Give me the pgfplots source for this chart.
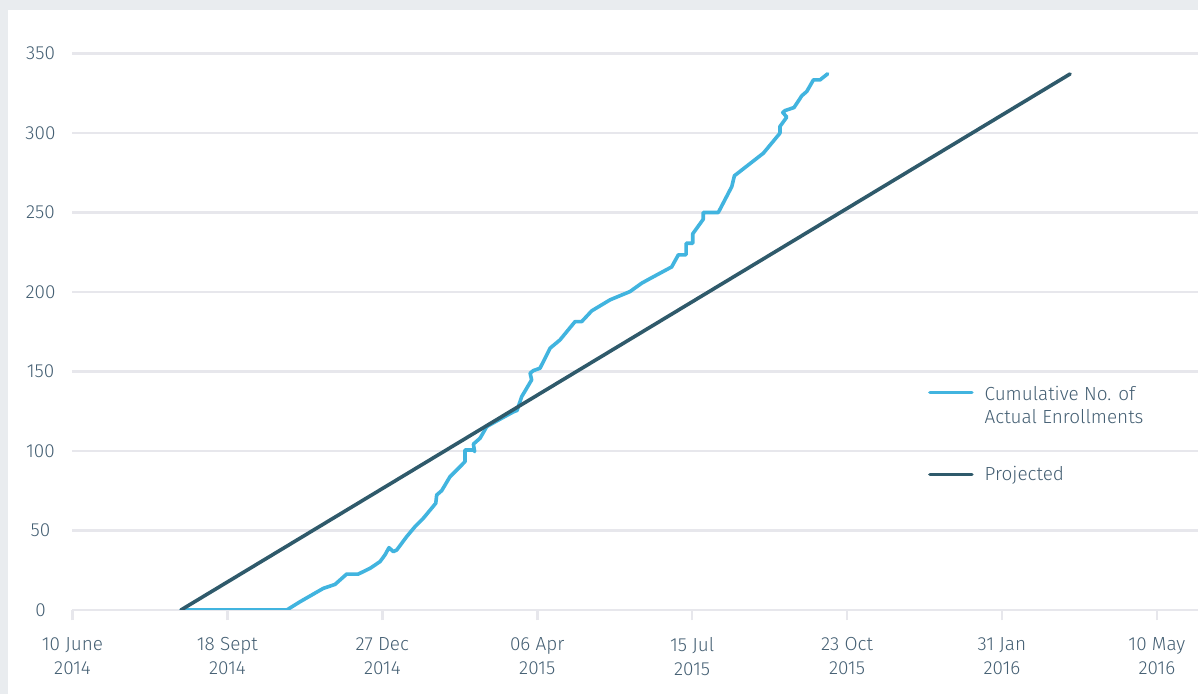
\documentclass[border=0pt]{standalone}
\usepackage{fontspec}
\setmainfont{Fira Sans Light}
\usepackage{pgfplots}
\usepackage{pgfplotstable}
\pgfplotsset{compat=1.18}
\definecolor{actual}{HTML}{41B4DF}
\definecolor{proj}{HTML}{2F5A6B}
\definecolor{txt}{HTML}{445F73}
\definecolor{gridc}{HTML}{E7E7EC}
\definecolor{framec}{HTML}{E9ECEF}

% day 0 = 10 June 2014
\pgfplotstableread{
d v
70.0 0
138.3 0
146.9 5.2
161.9 13.6
169.5 16.1
177.0 22.6
184.5 22.6
192.1 26.2
198.5 30.4
201.7 34.6
204.3 39.2
207.1 36.7
209.3 37.7
215.7 46.1
221.1 52.4
226.5 57.7
234.5 67.1
235.1 72.3
238.3 75.0
243.7 83.8
251.3 91.2
253.4 93.3
253.4 100.6
259.2 100.6
259.6 99.6
258.8 104.3
263.1 108.0
267.4 115.3
276.0 120.0
284.5 124.5
287.0 125.5
290.0 134.2
293.2 139.4
296.4 144.7
295.4 148.9
297.5 150.5
301.8 152.0
308.3 164.6
314.7 169.8
324.4 181.3
328.7 181.3
335.2 188.1
347.0 195.0
359.9 200.2
367.5 205.5
372.9 208.4
386.8 215.7
391.1 223.3
396.1 223.3
396.1 230.6
400.4 230.6
400.4 236.5
407.2 245.7
407.2 249.9
416.9 249.9
425.6 266.2
427.3 273.0
446.0 287.2
456.7 299.8
456.7 304.0
461.1 309.9
458.5 312.8
460.0 314.0
465.8 315.9
470.8 323.3
474.0 326.0
478.3 333.3
482.6 333.3
487.5 337.1
}\actualdata

\pgfplotstableread{
d v
70.0 0
644.0 337
}\projdata

\begin{document}
\begin{tikzpicture}
\fill[framec] (-72.5bp,-84bp) rectangle (1125.5bp,610bp);
\fill[white] (-64.5bp,-84bp) rectangle (1125.5bp,599.5bp);
\begin{axis}[
  at={(0,0)}, anchor=south west,
  scale only axis, width=1125.5bp, height=556.7bp,
  xmin=0, xmax=726.6, ymin=0, ymax=350,
  axis line style={draw=none},
  ymajorgrids, grid style={color=gridc, line width=2.6bp},
  xtick={0,100,...,700},
  xticklabels={{10 June\\2014},{18 Sept\\2014},{27 Dec\\2014},{06 Apr\\2015},{15 Jul\\2015},{23 Oct\\2015},{31 Jan\\2016},{10 May\\2016}},
  ytick={0,50,...,350},
  tick align=outside, major tick length=10bp,
  xtick pos=bottom, ytick pos=left,
  xtick style={color=gridc, line width=2.6bp},
  ytick style={draw=none},
  /pgf/number format/assume math mode=true,
  tick label style={font=\fontsize{19}{24}\selectfont, text=txt},
  xticklabel style={align=center, anchor=north, yshift=-14bp},
  yticklabel style={anchor=center, xshift=-22bp},
  legend style={at={(axis description cs:0.760,0.4076)}, anchor=north west,
    draw=none, fill=none, inner sep=0pt, column sep=11bp, row sep=65bp,
    font=\fontsize{19}{24}\selectfont, text=txt,
    nodes={inner sep=0pt}},
  legend cell align=left,
  legend image code/.code={\draw[#1, line width=3.6bp] (0bp,0bp) -- (42bp,0bp);},
]
\addplot[color=actual, line width=3.6bp, line cap=round, line join=round] table[x=d,y=v] {\actualdata};
\addlegendentry{\begin{tabular}[t]{@{}l@{}}Cumulative No. of\\Actual Enrollments\end{tabular}}
\addplot[color=proj, line width=3.6bp, line cap=round, line join=round] table[x=d,y=v] {\projdata};
\addlegendentry{Projected}
\end{axis}
\pgfresetboundingbox
\useasboundingbox (-72.5bp,-84bp) rectangle (1125.5bp,610bp);
\end{tikzpicture}
\end{document}
